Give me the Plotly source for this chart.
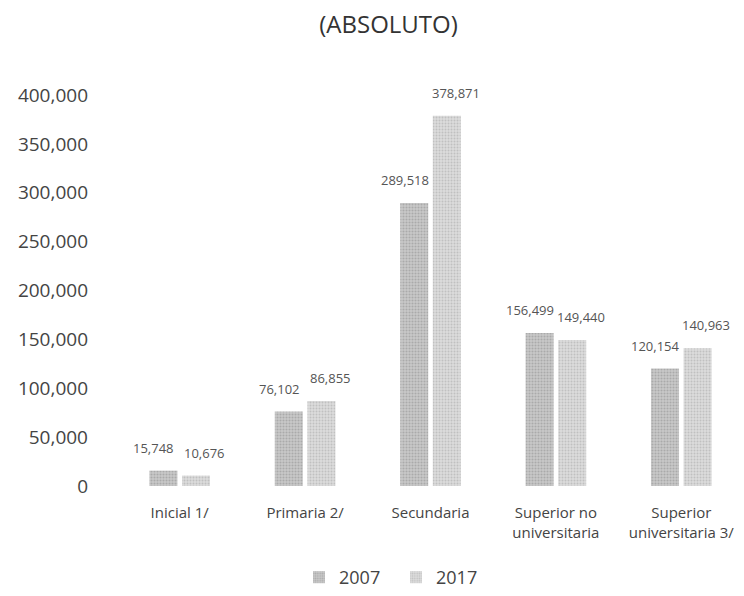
import plotly.graph_objects as go

categorias = ["Inicial 1/", "Primaria 2/", "Secundaria", "Superior no<br>universitaria", "Superior<br>universitaria 3/"]
valores_2007 = [15748, 76102, 289518, 156499, 120154]
valores_2017 = [10676, 86855, 378871, 149440, 140963]
ticks = [0, 50000, 100000, 150000, 200000, 250000, 300000, 350000, 400000]

fig = go.Figure()

fig.add_trace(go.Bar(
    x=categorias, y=valores_2007, name="2007",
    marker=dict(color="#bdbdbd", line=dict(width=0),
                pattern=dict(shape=".", fgcolor="#8c8c8c", bgcolor="#c9c9c9", size=3, solidity=0.4)),
))
fig.add_trace(go.Bar(
    x=categorias, y=valores_2017, name="2017",
    marker=dict(color="#d4d4d4", line=dict(width=0),
                pattern=dict(shape=".", fgcolor="#a3a3a3", bgcolor="#dcdcdc", size=3, solidity=0.35)),
))

# etiquetas de valor, un poco separadas hacia afuera como en el original
for valores, dx in [(valores_2007, -26), (valores_2017, 25)]:
    for cat, v in zip(categorias, valores):
        fig.add_annotation(x=cat, y=v, xref="x", yref="y", text=f"{v:,}", showarrow=False,
                           xshift=dx, yanchor="bottom", yshift=12,
                           font=dict(size=13, color="#555555"))

fig.update_layout(
    width=736, height=588,
    font=dict(family="Open Sans", color="#444444"),
    title=dict(text="(ABSOLUTO)", x=0.517, xanchor="center", y=0.971, yanchor="middle",
               font=dict(size=24, color="#333333")),
    barmode="group", bargap=0.48, bargroupgap=0.14,
    xaxis=dict(showline=False, showgrid=False, automargin=False,
               tickfont=dict(size=15, color="#444444"), ticklabelstandoff=16),
    yaxis=dict(range=[0, 400000], tickvals=ticks, tickformat=",", showgrid=False,
               zeroline=False, automargin=False,
               tickfont=dict(size=19, color="#444444"), ticklabelstandoff=28),
    legend=dict(orientation="h", x=0.445, xanchor="center", y=-0.235, yanchor="middle",
                itemwidth=30, entrywidth=52, font=dict(size=18, color="#444444")),
    margin=dict(l=109, r=0, t=87, b=97),
    plot_bgcolor="white", paper_bgcolor="white"
)

fig.write_html("out.html")
